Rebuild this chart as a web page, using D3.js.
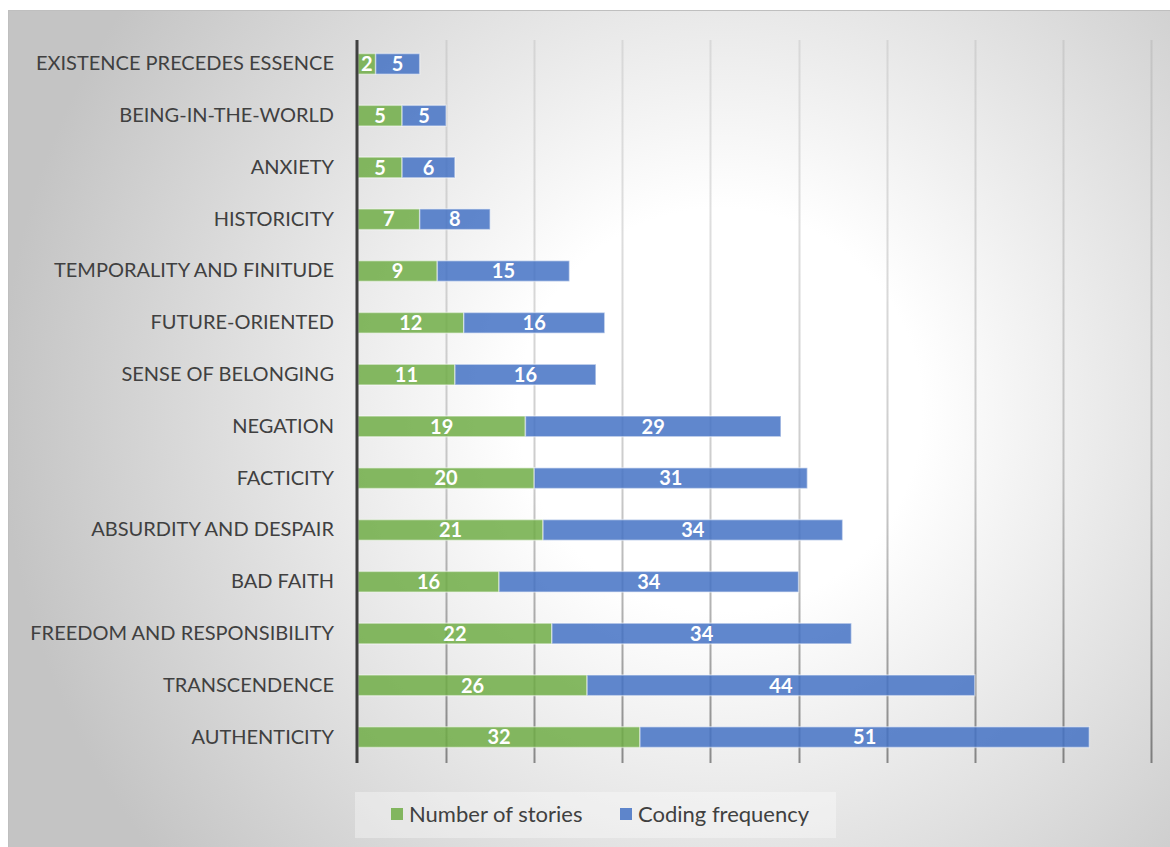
<!DOCTYPE html>
<html>
<head>
<meta charset="utf-8">
<script src="https://cdn.jsdelivr.net/npm/d3@7"></script>
<style>
  html, body { margin: 0; padding: 0; background: #fff; }
  #container { width: 1170px; height: 847px; }
  text { font-family: Lato, "Open Sans", sans-serif; }
</style>
</head>
<body>
<div id="container"></div>
<script>
"use strict";

// categories top to bottom, as in the picture
const categories = [
    "EXISTENCE PRECEDES ESSENCE", "BEING-IN-THE-WORLD", "ANXIETY", "HISTORICITY",
    "TEMPORALITY AND FINITUDE", "FUTURE-ORIENTED", "SENSE OF BELONGING", "NEGATION",
    "FACTICITY", "ABSURDITY AND DESPAIR", "BAD FAITH", "FREEDOM AND RESPONSIBILITY",
    "TRANSCENDENCE", "AUTHENTICITY"
];
const stories = [2, 5, 5, 7, 9, 12, 11, 19, 20, 21, 16, 22, 26, 32];
const coding = [5, 5, 6, 8, 15, 16, 16, 29, 31, 34, 34, 34, 44, 51];
const seriesNames = ["Number of stories", "Coding frequency"];
const seriesColors = ["#70ad47", "#4472c4"];
const xTicks = [0, 10, 20, 30, 40, 50, 60, 70, 80, 90];

const W = 1170, H = 847;
const svg = d3.select("#container").append("svg")
    .attr("width", W)
    .attr("height", H);

// background gradient like the office chart style
const defs = svg.append("defs");
const bg = defs.append("radialGradient")
    .attr("id", "bg")
    .attr("gradientUnits", "userSpaceOnUse")
    .attr("cx", 720).attr("cy", 410).attr("r", 720);
bg.append("stop").attr("offset", "0").attr("stop-color", "#ffffff");
bg.append("stop").attr("offset", "0.28").attr("stop-color", "#ffffff");
bg.append("stop").attr("offset", "1").attr("stop-color", "#c4c4c4");

const gridGrad = defs.append("linearGradient")
    .attr("id", "gridGrad")
    .attr("gradientUnits", "userSpaceOnUse")
    .attr("x1", 0).attr("y1", 40).attr("x2", 0).attr("y2", 763);
gridGrad.append("stop").attr("offset", "0").attr("stop-color", "#000").attr("stop-opacity", 0.08);
gridGrad.append("stop").attr("offset", "0.6").attr("stop-color", "#000").attr("stop-opacity", 0.2);
gridGrad.append("stop").attr("offset", "1").attr("stop-color", "#000").attr("stop-opacity", 0.42);

svg.append("rect")
    .attr("x", 8.5).attr("y", 10.5)
    .attr("width", W).attr("height", H)
    .attr("fill", "url(#bg)")
    .attr("stroke", "#bfbfbf");

// scales
const x = d3.scaleLinear()
    .domain([0, 90])
    .range([358, 1151]);

const y = d3.scaleBand()
    .domain(categories)
    .range([38, 763])
    .paddingInner(0.6)
    .paddingOuter(0.3);

// gridlines
svg.append("g")
    .selectAll("line")
    .data(xTicks.slice(1))
    .join("line")
    .attr("x1", d => Math.round(x(d)) + 0.5)
    .attr("x2", d => Math.round(x(d)) + 0.5)
    .attr("y1", 40)
    .attr("y2", 763)
    .attr("stroke", "url(#gridGrad)")
    .attr("stroke-width", 2);

// stacked bars
const rows = categories.map((c, i) => ({ cat: c, s: stories[i], c: coding[i] }));
const stack = d3.stack().keys(["s", "c"]);
const layers = stack(rows);

const barG = svg.append("g");
layers.forEach((layer, li) => {
    barG.append("g")
        .selectAll("rect")
        .data(layer)
        .join("rect")
        .attr("x", d => x(d[0]))
        .attr("y", d => y(d.data.cat))
        .attr("width", d => x(d[1]) - x(d[0]))
        .attr("height", y.bandwidth())
        .attr("fill", seriesColors[li])
        .attr("fill-opacity", 0.85)
        .attr("stroke", "#ffffff")
        .attr("stroke-opacity", 0.45)
        .attr("stroke-width", 1.5);

    barG.append("g")
        .selectAll("text")
        .data(layer)
        .join("text")
        .attr("x", d => (x(d[0]) + x(d[1])) / 2)
        .attr("y", d => y(d.data.cat) + y.bandwidth() / 2)
        .attr("dy", "0.36em")
        .attr("text-anchor", "middle")
        .attr("fill", "#fff")
        .attr("font-size", 20)
        .attr("font-weight", "bold")
        .text(d => d[1] - d[0]);
});

// vertical axis
const yAxis = svg.append("g")
    .attr("transform", `translate(${x(0) - 1}, 0)`)
    .call(d3.axisLeft(y).tickSize(0).tickPadding(23));
yAxis.select(".domain").remove();
yAxis.append("line")
    .attr("x1", 0).attr("x2", 0)
    .attr("y1", 40).attr("y2", 763)
    .attr("stroke", "#404040")
    .attr("stroke-width", 3);
yAxis.selectAll(".tick text")
    .attr("fill", "#404040")
    .attr("font-size", 20)
    .attr("font-family", "Lato, 'Open Sans', sans-serif");

// legend
const legend = svg.append("g");
legend.append("rect")
    .attr("x", 355).attr("y", 792)
    .attr("width", 481).attr("height", 46)
    .attr("fill", "#ffffff")
    .attr("fill-opacity", 0.35);

const legX = [391, 620];
seriesNames.forEach((name, i) => {
    legend.append("rect")
        .attr("x", legX[i]).attr("y", 808)
        .attr("width", 12).attr("height", 12)
        .attr("fill", seriesColors[i])
        .attr("fill-opacity", 0.85);
    legend.append("text")
        .attr("x", legX[i] + 18)
        .attr("y", 822)
        .attr("fill", "#404040")
        .attr("font-size", 22)
        .text(name);
});
</script>
</body>
</html>
